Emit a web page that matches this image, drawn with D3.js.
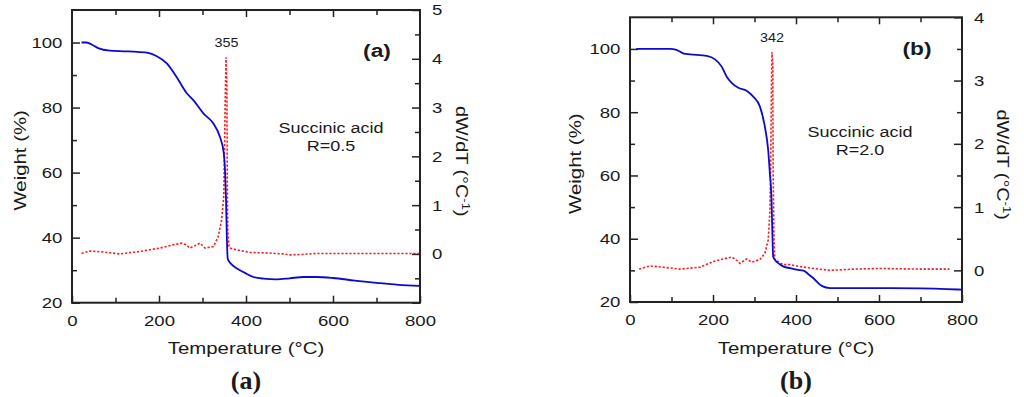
<!DOCTYPE html>
<html>
<head>
<meta charset="utf-8">
<script src="https://cdn.jsdelivr.net/npm/d3@7"></script>
<style>
  body { margin: 0; background: #fff; }
  text { font-family: "Liberation Sans", Arial, sans-serif; fill: #1a1a1a; }
</style>
</head>
<body>
<svg id="chart" width="1024" height="397"></svg>
<script>
// panel (a): R = 0.5
const tempWA = [22, 32, 45, 60, 87, 120, 150, 175, 195, 218, 240, 264, 279, 302, 325, 340, 349, 352, 354, 356, 358, 362, 372, 386, 400, 417, 440, 470, 500, 532, 562, 600, 650, 700, 750, 800];
const weightA = [100, 100, 99.4, 98.3, 97.5, 97.3, 97.1, 96.8, 95.8, 93.6, 89.5, 84.4, 82.3, 78.2, 75.1, 71, 65.9, 60, 52, 40, 33.5, 32.5, 31.2, 30, 29, 27.9, 27.4, 27.2, 27.5, 27.9, 27.9, 27.6, 26.8, 26.1, 25.5, 25.2];
const tempDA = [22, 41, 70, 110, 156, 202, 230, 252, 262, 271, 283, 294, 306, 325, 336, 344, 349, 352, 354, 356, 357, 358, 361, 363, 380, 409, 450, 486, 501, 530, 562, 650, 750, 798];
const dtgA = [0.01, 0.06, 0.04, 0.0, 0.05, 0.12, 0.18, 0.22, 0.19, 0.12, 0.17, 0.22, 0.12, 0.15, 0.35, 0.7, 1.2, 3.0, 4.03, 3.5, 1.5, 0.5, 0.15, 0.12, 0.08, 0.03, 0.02, 0.0, -0.02, -0.01, 0.01, 0.01, 0.01, 0.01];

// panel (b): R = 2.0
const tempWB = [15, 96, 112, 128, 145, 185, 205, 221, 233, 245, 261, 281, 297, 313, 325, 333, 337, 341, 343, 345, 350, 360, 370, 386, 402, 418, 430, 442, 462, 482, 540, 602, 700, 763, 800];
const weightB = [100, 100, 99.7, 98.6, 98.3, 97.8, 96.7, 94.4, 91.2, 89.3, 87.7, 86.8, 84.9, 81.8, 75.4, 68, 60.7, 52.3, 42, 34.4, 33.2, 32, 31.2, 30.7, 30.2, 29.9, 28.8, 27.5, 25.1, 24.4, 24.4, 24.4, 24.3, 24.1, 23.9];
const tempDB = [22, 48, 80, 120, 169, 201, 225, 245, 255, 265, 281, 293, 313, 325, 333, 337, 339, 341, 342, 344, 345, 347, 349, 369, 386, 410, 442, 482, 540, 602, 700, 770];
const dtgB = [0.02, 0.07, 0.05, 0.02, 0.05, 0.14, 0.18, 0.21, 0.17, 0.11, 0.18, 0.13, 0.17, 0.27, 0.48, 0.9, 1.6, 3.0, 3.45, 3.3, 1.5, 0.5, 0.17, 0.09, 0.09, 0.06, 0.03, 0.0, 0.02, 0.03, 0.02, 0.02];

// axis ticks
const xMajor = [0, 200, 400, 600, 800];
const xMinor = [100, 300, 500, 700];
const wMajor = [20, 40, 60, 80, 100];
const wMinor = [30, 50, 70, 90];

const svg = d3.select("#chart");
const SX = 1.2; // the source figure is stretched horizontally

function drawPanel(o) {
  const x = d3.scaleLinear().domain([0, 800]).range([o.left, o.right]);
  const yW = d3.scaleLinear().domain([20, 110]).range([o.bottom, o.top]);
  const yD = d3.scaleLinear().domain(o.dDomain).range([o.bottom, o.top]);
  const g = svg.append("g");

  const style = (sel) => {
    sel.select(".domain").remove();
    sel.selectAll("line").attr("stroke", "#222").attr("stroke-width", 1.5);
    sel.selectAll("text").style("font-size", "15.5px").attr("fill", "#1a1a1a")
      .style("font-family", "Liberation Sans, Arial, sans-serif");
  };

  // bottom
  g.append("g").attr("transform", `translate(0,${o.bottom})`)
    .call(d3.axisBottom(x).tickValues(xMajor).tickSize(-7).tickPadding(12).tickFormat(d3.format("d")))
    .call(style)
    .selectAll("text").attr("transform", `scale(${SX},1)`);
  g.append("g").attr("transform", `translate(0,${o.bottom})`)
    .call(d3.axisBottom(x).tickValues(xMinor).tickSize(-5).tickFormat(""))
    .call(style);
  // top
  g.append("g").attr("transform", `translate(0,${o.top})`)
    .call(d3.axisTop(x).tickValues(xMajor.slice(1, -1)).tickSize(-7).tickFormat(""))
    .call(style);
  g.append("g").attr("transform", `translate(0,${o.top})`)
    .call(d3.axisTop(x).tickValues(xMinor).tickSize(-5).tickFormat(""))
    .call(style);
  // left
  g.append("g").attr("transform", `translate(${o.left},0)`)
    .call(d3.axisLeft(yW).tickValues(wMajor).tickSize(-8).tickPadding(8).tickFormat(d3.format("d")))
    .call(style)
    .selectAll("text").attr("transform", `scale(${SX},1)`);
  g.append("g").attr("transform", `translate(${o.left},0)`)
    .call(d3.axisLeft(yW).tickValues(wMinor).tickSize(-5).tickFormat(""))
    .call(style);
  // right
  g.append("g").attr("transform", `translate(${o.right},0)`)
    .call(d3.axisRight(yD).tickValues(o.dMajor).tickSize(-8).tickPadding(10).tickFormat((d) => o.dLabels.includes(d) ? d : ""))
    .call(style)
    .selectAll("text").attr("transform", `scale(${SX},1)`);
  g.append("g").attr("transform", `translate(${o.right},0)`)
    .call(d3.axisRight(yD).tickValues(o.dMinor).tickSize(-5).tickFormat(""))
    .call(style);

  // frame
  g.append("rect")
    .attr("x", o.left).attr("y", o.top)
    .attr("width", o.right - o.left).attr("height", o.bottom - o.top)
    .attr("fill", "none").attr("stroke", "#222").attr("stroke-width", 2);

  const clip = "clip" + o.id;
  svg.append("clipPath").attr("id", clip).append("rect")
    .attr("x", o.left).attr("y", o.top)
    .attr("width", o.right - o.left).attr("height", o.bottom - o.top);

  const lineW = d3.line().x((d) => x(d[0])).y((d) => yW(d[1])).curve(d3.curveMonotoneX);
  const lineD = d3.line().x((d) => x(d[0])).y((d) => yD(d[1]));

  g.append("path")
    .datum(d3.zip(o.tempD, o.dtg))
    .attr("clip-path", `url(#${clip})`)
    .attr("d", lineD)
    .attr("fill", "none").attr("stroke", "#ff1a1a")
    .attr("stroke-width", 1.6).attr("stroke-dasharray", "2.2,1.8");

  g.append("path")
    .datum(d3.zip(o.tempW, o.weight))
    .attr("clip-path", `url(#${clip})`)
    .attr("d", lineW)
    .attr("fill", "none").attr("stroke", "#0b0bd0").attr("stroke-width", 1.8);

  const txt = (px, py, s, size, extra) => {
    const t = g.append("text")
      .attr("transform", `translate(${px},${py}) ${extra || ""} scale(${SX},1)`)
      .attr("text-anchor", "middle")
      .style("font-size", size + "px")
      .text(s);
    return t;
  };

  // peak label and annotations
  txt(x(o.peak), o.peakY, String(o.peak), 12);
  txt(o.tagX, o.tagY, o.tag, 19).style("font-weight", "bold");
  txt(o.noteX, o.noteY, "Succinic acid", 15);
  txt(o.noteX, o.noteY + 18, o.ratio, 15);

  // axis titles
  txt((o.left + o.right) / 2, 354, "Temperature (°C)", 17);
  txt(o.wLabelX, (o.top + o.bottom) / 2 + 4, "Weight (%)", 17, "rotate(-90)");
  const dl = txt(o.dLabelX, (o.top + o.bottom) / 2 + 5, "dW/dT (°C", 16.5, "rotate(90)").text(null);
  dl.append("tspan").text("dW/dT (°C");
  dl.append("tspan").attr("dy", -6).style("font-size", "11px").text("-1");
  dl.append("tspan").attr("dy", 6).text(")");

  // sub-figure caption
  g.append("text")
    .attr("x", (o.left + o.right) / 2).attr("y", 389)
    .attr("text-anchor", "middle")
    .style("font-family", "Liberation Serif, Times New Roman, serif")
    .style("font-size", "26px").style("font-weight", "bold")
    .text(o.tag);
}

drawPanel({
  id: "a", left: 72, right: 420, top: 10, bottom: 302.7,
  dDomain: [-1, 5], dMajor: [-1, 0, 1, 2, 3, 4, 5], dLabels: [0, 1, 2, 3, 4, 5],
  dMinor: [-0.5, 0.5, 1.5, 2.5, 3.5, 4.5],
  tempW: tempWA, weight: weightA, tempD: tempDA, dtg: dtgA,
  peak: 355, peakY: 47, tag: "(a)", tagX: 377, tagY: 57,
  noteX: 331, noteY: 133, ratio: "R=0.5",
  wLabelX: 26, dLabelX: 456
});

drawPanel({
  id: "b", left: 630, right: 962, top: 17.3, bottom: 302,
  dDomain: [-0.5, 4], dMajor: [0, 1, 2, 3, 4], dLabels: [0, 1, 2, 3, 4],
  dMinor: [0.5, 1.5, 2.5, 3.5],
  tempW: tempWB, weight: weightB, tempD: tempDB, dtg: dtgB,
  peak: 342, peakY: 42, tag: "(b)", tagX: 917, tagY: 55,
  noteX: 860, noteY: 137, ratio: "R=2.0",
  wLabelX: 581, dLabelX: 997
});
</script>
</body>
</html>
